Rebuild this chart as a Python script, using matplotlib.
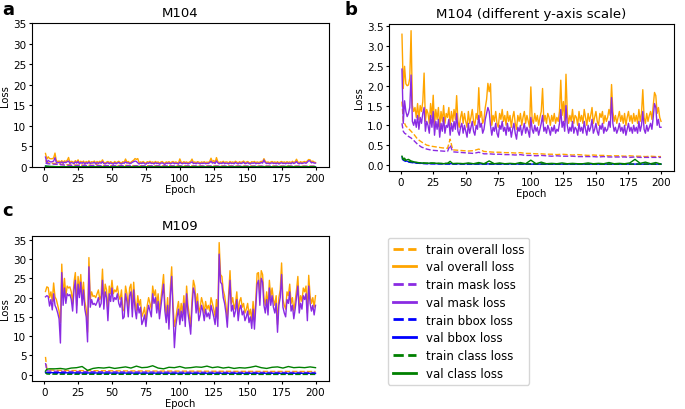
import numpy as np
import matplotlib
matplotlib.use('Agg')
import matplotlib.pyplot as plt
from matplotlib.lines import Line2D

# ---- data ----
epochs = np.arange(1, 201)

# M104, per-epoch validation losses
m104_val_mask = [
    2.42, 1.05, 1.62, 1.35, 1.22, 1.30, 1.45, 2.27, 1.10, 1.00,
    1.15, 0.95, 1.25, 0.90, 1.20, 1.05, 1.30, 1.45, 0.85, 1.10,
    1.00, 0.80, 1.25, 0.95, 1.35, 0.75, 1.10, 0.90, 1.15, 0.70,
    1.05, 0.85, 1.20, 0.80, 1.00, 0.95, 1.15, 0.75, 1.05, 0.85,
    1.10, 0.90, 1.30, 0.85, 0.75, 0.95, 1.05, 0.80, 1.00, 0.85,
    0.70, 1.05, 0.80, 0.95, 1.10, 0.85, 0.75, 1.00, 0.90, 1.25,
    0.95, 1.05, 0.80, 0.90, 1.15, 1.30, 1.45, 1.35, 1.00, 0.75,
    0.95, 0.85, 1.05, 0.80, 0.70, 1.00, 0.90, 1.10, 0.85, 0.95,
    0.75, 1.05, 0.85, 0.95, 0.70, 0.90, 1.05, 0.80, 0.65, 0.95,
    0.85, 1.00, 0.75, 0.90, 1.05, 0.80, 0.95, 0.85, 0.70, 1.20,
    0.90, 0.80, 1.00, 0.85, 0.95, 0.75, 0.90, 1.05, 1.25, 0.85,
    0.95, 0.80, 1.00, 0.90, 0.75, 0.95, 0.85, 1.00, 0.80, 0.90,
    0.85, 1.05, 1.40, 0.95, 1.10, 0.85, 1.50, 1.00, 0.80, 0.95,
    0.85, 1.10, 0.80, 0.95, 0.90, 0.75, 1.05, 0.85, 0.95, 0.80,
    1.10, 0.90, 0.75, 1.00, 0.85, 0.95, 1.15, 0.80, 0.90, 1.05,
    0.85, 0.75, 1.00, 0.90, 1.05, 0.80, 0.95, 0.85, 0.90, 1.10,
    0.95, 1.70, 1.05, 0.85, 0.95, 0.80, 0.90, 1.05, 0.85, 0.95,
    0.80, 1.00, 0.75, 0.90, 1.05, 0.85, 0.95, 0.80, 1.00, 0.85,
    0.95, 0.80, 1.10, 0.85, 1.00, 1.35, 0.90, 0.80, 1.00, 0.85,
    0.95, 1.05, 0.90, 1.20, 1.55, 1.45, 1.00, 1.15, 0.95, 0.95,
]
m104_val_overall = [
    3.30, 1.93, 2.49, 2.05, 2.00, 2.02, 2.19, 3.39, 1.50, 1.35,
    1.45, 1.20, 1.55, 1.15, 1.50, 1.35, 1.60, 2.32, 1.10, 1.40,
    1.30, 1.05, 1.55, 1.20, 1.76, 1.00, 1.40, 1.15, 1.45, 0.95,
    1.35, 1.10, 1.50, 1.05, 1.30, 1.20, 1.45, 1.00, 1.35, 1.10,
    1.40, 1.15, 1.75, 1.10, 0.95, 1.20, 1.35, 1.05, 1.30, 1.10,
    0.95, 1.35, 1.05, 1.20, 1.40, 1.10, 1.00, 1.30, 1.15, 1.95,
    1.20, 1.35, 1.05, 1.15, 1.45, 1.65, 2.06, 1.85, 2.05, 1.00,
    1.25, 1.10, 1.35, 1.05, 0.95, 1.30, 1.15, 1.40, 1.10, 1.25,
    1.00, 1.35, 1.10, 1.25, 0.95, 1.20, 1.35, 1.05, 0.90, 1.25,
    1.10, 1.30, 1.00, 1.20, 1.35, 1.05, 1.25, 1.10, 0.95, 1.97,
    1.15, 1.05, 1.30, 1.10, 1.25, 1.00, 1.20, 1.35, 1.93, 1.10,
    1.25, 1.05, 1.30, 1.20, 1.00, 1.25, 1.10, 1.30, 1.05, 1.20,
    1.10, 1.35, 2.14, 1.25, 1.60, 1.10, 2.29, 1.30, 1.05, 1.25,
    1.10, 1.40, 1.05, 1.25, 1.20, 1.00, 1.35, 1.10, 1.25, 1.05,
    1.40, 1.20, 1.00, 1.30, 1.10, 1.25, 1.45, 1.05, 1.20, 1.35,
    1.10, 1.00, 1.30, 1.20, 1.35, 1.05, 1.25, 1.10, 1.20, 1.40,
    1.25, 2.03, 1.35, 1.10, 1.25, 1.05, 1.20, 1.35, 1.10, 1.25,
    1.05, 1.30, 1.00, 1.20, 1.35, 1.10, 1.25, 1.05, 1.30, 1.10,
    1.25, 1.05, 1.40, 1.10, 1.30, 1.90, 1.20, 1.05, 1.30, 1.10,
    1.25, 1.35, 1.15, 1.50, 1.83, 1.75, 1.30, 1.45, 1.20, 1.10,
]

# M104, sampled epochs for the smoother curves
m104_ep = [1, 2, 3, 4, 6, 8, 10, 13, 16, 20, 24, 28, 32, 36, 38, 40,
           44, 48, 52, 56, 60, 64, 68, 72, 76, 80,
           84, 88, 92, 96, 100, 104, 108, 112, 116, 120,
           124, 128, 132, 136, 140, 144, 148, 152, 156, 160,
           164, 168, 172, 176, 180, 184, 188, 192, 196, 200]
m104_train_overall = [1.60, 1.10, 1.05, 0.98, 0.92, 0.85, 0.78, 0.65, 0.58, 0.50, 0.47, 0.45, 0.43, 0.42, 0.65, 0.38,
                      0.37, 0.36, 0.35, 0.36, 0.40, 0.34, 0.33, 0.32, 0.32, 0.31,
                      0.31, 0.30, 0.31, 0.29, 0.29, 0.28, 0.28, 0.27, 0.27, 0.26,
                      0.27, 0.26, 0.25, 0.26, 0.25, 0.24, 0.25, 0.24, 0.24, 0.23,
                      0.23, 0.23, 0.22, 0.23, 0.22, 0.22, 0.21, 0.22, 0.21, 0.21]
m104_train_mask = [1.05, 0.85, 0.80, 0.78, 0.72, 0.68, 0.62, 0.52, 0.45, 0.40, 0.37, 0.36, 0.35, 0.34, 0.50, 0.33,
                   0.32, 0.31, 0.30, 0.29, 0.32, 0.28, 0.28, 0.27, 0.27, 0.26,
                   0.26, 0.25, 0.26, 0.24, 0.24, 0.23, 0.24, 0.23, 0.22, 0.23,
                   0.22, 0.22, 0.22, 0.21, 0.21, 0.21, 0.21, 0.20, 0.21, 0.20,
                   0.20, 0.20, 0.20, 0.19, 0.20, 0.19, 0.19, 0.19, 0.19, 0.19]
m104_val_class = [0.22, 0.15, 0.17, 0.12, 0.14, 0.10, 0.08, 0.06, 0.05, 0.04, 0.05, 0.04, 0.03, 0.04, 0.09, 0.03,
                  0.04, 0.03, 0.05, 0.03, 0.06, 0.03, 0.10, 0.03, 0.05, 0.03,
                  0.04, 0.03, 0.06, 0.03, 0.12, 0.03, 0.07, 0.03, 0.04, 0.03,
                  0.05, 0.03, 0.04, 0.03, 0.03, 0.05, 0.03, 0.04, 0.03, 0.06,
                  0.03, 0.04, 0.03, 0.05, 0.14, 0.04, 0.07, 0.03, 0.06, 0.02]

m104_ep_s = [1, 2, 3, 5, 8, 12, 16, 20, 30, 40, 60, 80, 100, 130, 160, 200]
m104_train_class = [0.18, 0.14, 0.12, 0.10, 0.08, 0.06, 0.05, 0.045, 0.04, 0.035, 0.03, 0.03, 0.025, 0.025, 0.02, 0.02]
m104_val_bbox = [0.20, 0.13, 0.12, 0.09, 0.07, 0.05, 0.04, 0.035, 0.03, 0.03, 0.025, 0.025, 0.02, 0.02, 0.02, 0.02]
m104_train_bbox = [0.16, 0.12, 0.10, 0.08, 0.06, 0.045, 0.035, 0.03, 0.025, 0.02, 0.02, 0.018, 0.016, 0.015, 0.015, 0.015]

# M109, per-epoch validation losses
m109_val_mask = [
    20.2, 20.5, 20.3, 17.8, 19.5, 16.8, 21.0, 18.0, 17.2, 16.0,
    14.5, 8.2, 26.5, 18.0, 22.5, 18.5, 21.0, 20.5, 20.8, 19.5,
    16.5, 22.0, 24.5, 16.0, 23.5, 20.0, 24.0, 18.0, 22.0, 17.0,
    15.0, 8.5, 28.0, 17.5, 19.5, 18.2, 18.5, 18.0, 18.8, 20.0,
    17.5, 18.5, 24.5, 17.0, 21.5, 20.0, 14.0, 21.0, 19.0, 22.5,
    19.0, 20.0, 19.5, 21.0, 18.5, 17.5, 20.0, 14.5, 15.0, 21.0,
    19.0, 15.0, 20.5, 21.5, 15.0, 22.0, 17.0, 14.5, 18.5, 16.0,
    17.5, 13.0, 14.0, 15.5, 12.5, 16.0, 18.0, 16.5, 15.0, 21.0,
    18.5, 20.0, 16.0, 19.0, 14.5, 17.5, 20.5, 23.5, 16.5, 13.5,
    18.0, 11.8, 20.5, 25.5, 16.0, 7.0, 12.5, 15.0, 17.0, 13.0,
    16.5, 14.0, 18.5, 12.5, 21.0, 16.0, 13.5, 10.5, 17.5, 22.5,
    21.0, 16.0, 19.0, 14.0, 15.5, 18.0, 16.5, 14.0, 17.0, 15.0,
    16.0, 14.5, 18.0, 16.5, 15.0, 13.0, 17.5, 12.5, 31.3, 24.0,
    23.5, 20.0, 18.5, 16.0, 12.3, 19.0, 24.5, 16.5, 18.0, 15.0,
    16.5, 19.5, 14.0, 17.0, 18.0, 15.5, 16.5, 14.0, 15.0, 16.5,
    13.5, 15.0, 12.0, 17.0, 11.8, 17.5, 23.5, 24.5, 18.0, 25.0,
    24.0, 18.0, 16.0, 19.5, 15.5, 22.5, 18.0, 20.5, 17.5, 16.0,
    18.5, 11.0, 18.0, 20.0, 26.0, 17.5, 16.0, 15.0, 19.5, 18.5,
    21.5, 16.5, 18.0, 14.5, 17.0, 20.0, 23.0, 16.0, 18.5, 17.0,
    20.5, 19.5, 21.0, 14.0, 23.0, 18.5, 16.5, 18.0, 15.5, 18.0,
]
m109_val_overall = [
    21.6, 22.8, 22.6, 20.0, 21.5, 19.0, 23.8, 20.2, 19.5, 18.0,
    16.5, 13.5, 28.7, 20.0, 25.0, 20.5, 23.0, 22.5, 22.8, 21.5,
    18.5, 24.0, 26.5, 18.0, 25.5, 22.0, 26.0, 20.0, 24.0, 19.0,
    17.0, 11.0, 30.4, 19.5, 21.5, 20.3, 20.5, 20.0, 21.0, 22.0,
    19.5, 20.5, 27.4, 19.0, 23.5, 22.0, 16.0, 23.0, 21.0, 24.5,
    21.0, 22.0, 21.5, 23.0, 20.5, 19.5, 22.0, 16.5, 17.0, 23.0,
    21.0, 17.0, 22.5, 23.5, 17.0, 24.0, 19.0, 16.5, 20.5, 18.0,
    19.5, 15.0, 16.0, 17.5, 14.0, 18.0, 20.0, 18.5, 17.0, 23.0,
    20.5, 22.0, 18.0, 21.0, 16.5, 19.5, 22.5, 26.0, 18.5, 15.5,
    20.0, 13.5, 22.5, 28.0, 18.0, 12.5, 14.5, 17.0, 19.0, 15.0,
    18.5, 16.0, 20.5, 14.5, 23.0, 18.0, 15.5, 12.5, 19.5, 24.5,
    23.0, 18.0, 21.0, 16.0, 17.5, 20.0, 18.5, 16.0, 19.0, 17.0,
    18.0, 16.5, 20.0, 18.5, 17.0, 15.0, 19.5, 14.5, 34.3, 26.0,
    25.5, 22.0, 20.5, 18.0, 14.3, 21.0, 27.0, 18.5, 20.0, 17.0,
    18.5, 21.5, 16.0, 19.0, 20.0, 17.5, 18.5, 16.0, 17.0, 18.5,
    15.5, 17.0, 14.0, 19.0, 13.8, 19.5, 26.3, 26.5, 20.0, 27.0,
    26.0, 20.0, 18.0, 21.5, 17.5, 24.5, 20.0, 22.5, 19.5, 18.0,
    20.5, 13.0, 20.0, 22.0, 29.0, 19.5, 18.0, 17.0, 21.5, 20.5,
    23.5, 18.5, 20.0, 16.5, 19.0, 22.0, 25.5, 18.0, 20.5, 19.0,
    22.5, 21.5, 23.0, 16.0, 25.8, 20.5, 18.5, 20.0, 17.5, 20.5,
]

# M109, sampled epochs
m109_ep = [1, 2, 4, 8, 12, 16, 20, 24, 28, 32,
           36, 40, 44, 48, 52, 56, 60, 64, 68, 72,
           76, 80, 84, 88, 92, 96, 100, 104, 108, 112,
           116, 120, 124, 128, 132, 136, 140, 144, 148, 152,
           156, 160, 164, 168, 172, 176, 180, 184, 188, 192,
           196, 200]
m109_val_class = [0.9, 1.4, 1.5, 1.5, 1.6, 1.4, 1.7, 1.8, 2.1, 1.1,
                  1.6, 1.8, 1.7, 1.9, 1.6, 1.8, 2.0, 1.7, 2.2, 1.8,
                  1.9, 2.3, 1.7, 1.5, 1.9, 1.8, 2.1, 1.7, 1.8, 2.0,
                  1.9, 2.2, 1.8, 2.0, 1.7, 1.9, 1.6, 1.8, 1.7, 1.9,
                  2.2, 1.8, 1.6, 1.9, 2.0, 1.7, 2.1, 1.8, 1.9, 1.8,
                  2.0, 1.8]

m109_ep_s = [1, 2, 4, 10, 20, 40, 60, 80, 100, 120, 140, 160, 180, 200]
m109_train_overall = [4.6, 1.5, 1.2, 1.1, 1.05, 1.0, 0.95, 0.92, 0.9, 0.88, 0.85, 0.83, 0.82, 0.8]
m109_train_mask = [3.0, 1.0, 0.9, 0.85, 0.8, 0.75, 0.7, 0.68, 0.65, 0.62, 0.6, 0.58, 0.57, 0.55]
m109_val_bbox = [0.6, 0.55, 0.5, 0.5, 0.45, 0.42, 0.4, 0.38, 0.37, 0.36, 0.35, 0.35, 0.34, 0.34]
m109_train_bbox = [0.45, 0.4, 0.35, 0.3, 0.28, 0.25, 0.23, 0.22, 0.21, 0.2, 0.2, 0.19, 0.19, 0.18]
m109_train_class = [0.5, 0.15, 0.12, 0.1, 0.09, 0.08, 0.07, 0.07, 0.06, 0.06, 0.06, 0.05, 0.05, 0.05]

labels = ['train overall loss', 'val overall loss', 'train mask loss', 'val mask loss',
          'train bbox loss', 'val bbox loss', 'train class loss', 'val class loss']
colors = ['orange', 'orange', 'blueviolet', 'blueviolet', 'blue', 'blue', 'green', 'green']
styles = ['--', '-', '--', '-', '--', '-', '--', '-']

m104 = [(m104_ep, m104_train_overall), (epochs, m104_val_overall),
        (m104_ep, m104_train_mask), (epochs, m104_val_mask),
        (m104_ep_s, m104_train_bbox), (m104_ep_s, m104_val_bbox),
        (m104_ep_s, m104_train_class), (m104_ep, m104_val_class)]
m109 = [(m109_ep_s, m109_train_overall), (epochs, m109_val_overall),
        (m109_ep_s, m109_train_mask), (epochs, m109_val_mask),
        (m109_ep_s, m109_train_bbox), (m109_ep_s, m109_val_bbox),
        (m109_ep_s, m109_train_class), (m109_ep, m109_val_class)]

FS = 7.5


def draw(ax, series, title, yticks):
    for (x, y), c, ls in zip(series, colors, styles):
        ax.plot(x, y, color=c, linestyle=ls, linewidth=1)
    ax.set_title(title, fontsize=9.5, pad=5)
    ax.set_xlabel('Epoch', fontsize=7.2, labelpad=1)
    ax.set_ylabel('Loss', fontsize=7.2, labelpad=2)
    ax.tick_params(labelsize=FS, length=2.5, pad=1.5)
    ax.set_xticks([0, 25, 50, 75, 100, 125, 150, 175, 200])
    ax.set_yticks(yticks)


fig = plt.figure(figsize=(6.85, 4.10), dpi=100)

big_ticks = [0, 5, 10, 15, 20, 25, 30, 35]

ax_a = fig.add_axes([0.0467, 0.5902, 0.4336, 0.3512])
draw(ax_a, m104, 'M104', big_ticks)
ax_a.set_ylim(0, 35)

ax_b = fig.add_axes([0.5679, 0.5805, 0.416, 0.3585])
draw(ax_b, m104, 'M104 (different y-axis scale)', [0.0, 0.5, 1.0, 1.5, 2.0, 2.5, 3.0, 3.5])

ax_c = fig.add_axes([0.0467, 0.0683, 0.4336, 0.3537])
draw(ax_c, m109, 'M109', big_ticks)

fig.text(0.003, 0.975, 'a', fontsize=13, fontweight='bold', va='center')
fig.text(0.503, 0.975, 'b', fontsize=13, fontweight='bold', va='center')
fig.text(0.003, 0.485, 'c', fontsize=13, fontweight='bold', va='center')

handles = [Line2D([], [], color=c, linestyle=ls, linewidth=2) for c, ls in zip(colors, styles)]
fig.legend(handles, labels, loc='upper left', bbox_to_anchor=(388 / 685, 1 - 239 / 410),
           borderaxespad=0, fontsize=8.5, labelspacing=0.4)

fig.savefig('out.png', dpi=100)
